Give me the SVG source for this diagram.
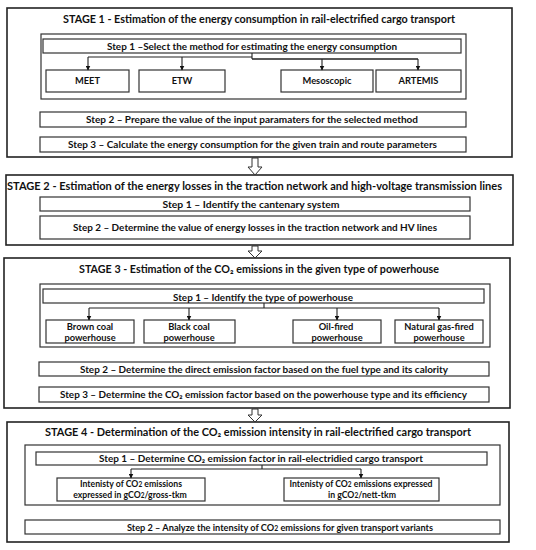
<svg xmlns="http://www.w3.org/2000/svg" width="536" height="550" viewBox="0 0 536 550">
<style>
.stage{fill:#fff;stroke:#222;stroke-width:1.6}
.grp{fill:none;stroke:#333;stroke-width:1.2}
.box{fill:#fff;stroke:#333;stroke-width:1.2}
.t{font-family:Lato,"Liberation Sans","DejaVu Sans",sans-serif;font-weight:700;fill:#111;text-anchor:middle}
.ttl{font-size:11.5px}
.st{font-size:10.3px}
.sm{font-size:9.3px}
.xs{font-size:8.7px}
.ln{fill:none;stroke:#222;stroke-width:1.1}
.blk{fill:#fff;stroke:#333;stroke-width:1}
.sub{font-size:75%}
</style>
<defs>
<marker id="ah" viewBox="0 0 10 10" refX="9" refY="5" markerWidth="5" markerHeight="5" orient="auto" markerUnits="userSpaceOnUse">
<path d="M0,0 L10,5 L0,10 z" fill="#111"/>
</marker>
</defs>
<rect width="536" height="550" fill="#fff"/>

<g id="stage1">
<rect class="stage" x="7" y="8" width="505" height="149"/>
<text class="t ttl" x="259" y="23" textLength="392" lengthAdjust="spacingAndGlyphs">STAGE 1 - Estimation of the energy consumption in rail-electrified cargo transport</text>
<rect class="grp" x="41" y="34" width="425" height="65"/>
<g id="s1-step1"><rect class="box" x="43" y="39" width="418" height="14"/>
<text class="t st" x="252" y="49.8" textLength="290" lengthAdjust="spacingAndGlyphs">Step 1 –Select the method for estimating the energy consumption</text></g>
<g id="s1-meet"><rect class="box" x="46" y="70" width="83" height="22"/><text class="t sm" x="87.5" y="84.3">MEET</text></g>
<g id="s1-etw"><rect class="box" x="139" y="70" width="86" height="22"/><text class="t sm" x="182" y="84.3">ETW</text></g>
<g id="s1-meso"><rect class="box" x="281" y="70" width="92" height="22"/><text class="t sm" x="327" y="84.3">Mesoscopic</text></g>
<g id="s1-artemis"><rect class="box" x="376" y="70" width="85" height="22"/><text class="t sm" x="418.5" y="84.3">ARTEMIS</text></g>
<g id="s1-step2"><rect class="box" x="40" y="112" width="426" height="15"/>
<text class="t st" x="252" y="123.1" textLength="332" lengthAdjust="spacingAndGlyphs">Step 2 – Prepare the value of the input paramaters for the selected method</text></g>
<g id="s1-step3"><rect class="box" x="40" y="137" width="426" height="15"/>
<text class="t st" x="252.5" y="148.1" textLength="369" lengthAdjust="spacingAndGlyphs">Step 3 – Calculate the energy consumption for the given train and route parameters</text></g>
</g>

<g id="stage2">
<rect class="stage" x="6" y="175" width="507" height="70"/>
<text class="t ttl" x="254.5" y="190" textLength="495" lengthAdjust="spacingAndGlyphs">STAGE 2 - Estimation of the energy losses in the traction network and high-voltage transmission lines</text>
<g id="s2-step1"><rect class="box" x="40" y="197" width="430" height="14"/>
<text class="t st" x="251" y="207.8" textLength="177" lengthAdjust="spacingAndGlyphs">Step 1 – Identify the cantenary system</text></g>
<g id="s2-step2"><rect class="box" x="40" y="216" width="430" height="23"/>
<text class="t st" x="255" y="231.1" textLength="364" lengthAdjust="spacingAndGlyphs">Step 2 – Determine the value of energy losses in the traction network and HV lines</text></g>
</g>

<g id="stage3">
<rect class="stage" x="4" y="258" width="506" height="150"/>
<text class="t ttl" x="259" y="273" textLength="360" lengthAdjust="spacingAndGlyphs">STAGE 3 - Estimation of the CO₂ emissions in the given type of powerhouse</text>
<rect class="grp" x="40" y="284" width="450" height="63"/>
<g id="s3-step1"><rect class="box" x="43" y="289" width="441" height="14"/>
<text class="t st" x="263" y="300.8" textLength="180" lengthAdjust="spacingAndGlyphs">Step 1 – Identify the type of powerhouse</text></g>
<g id="s3-brown"><rect class="box" x="46" y="320" width="88" height="23"/><text class="t sm" x="90" y="329.8">Brown coal</text><text class="t sm" x="90" y="340.8">powerhouse</text></g>
<g id="s3-black"><rect class="box" x="144" y="320" width="91" height="23"/><text class="t sm" x="189" y="329.8">Black coal</text><text class="t sm" x="189" y="340.8">powerhouse</text></g>
<g id="s3-oil"><rect class="box" x="293" y="320" width="88" height="23"/><text class="t sm" x="336" y="329.8">Oil-fired</text><text class="t sm" x="337" y="340.8">powerhouse</text></g>
<g id="s3-gas"><rect class="box" x="395" y="320" width="88" height="23"/><text class="t sm" x="439" y="329.8">Natural gas-fired</text><text class="t sm" x="439" y="340.8">powerhouse</text></g>
<g id="s3-step2"><rect class="box" x="39" y="362" width="450" height="14"/>
<text class="t st" x="264" y="372.8" textLength="368" lengthAdjust="spacingAndGlyphs">Step 2 – Determine the direct emission factor based on the fuel type and its calority</text></g>
<g id="s3-step3"><rect class="box" x="39" y="387" width="450" height="15"/>
<text class="t st" x="263.5" y="398.1" textLength="407" lengthAdjust="spacingAndGlyphs">Step 3 – Determine the CO₂ emission factor based on the powerhouse type and its efficiency</text></g>
</g>

<g id="stage4">
<rect class="stage" x="7" y="422" width="502" height="120"/>
<text class="t ttl" x="258" y="436" textLength="426" lengthAdjust="spacingAndGlyphs">STAGE 4 - Determination of the CO₂ emission intensity in rail-electrified cargo transport</text>
<rect class="grp" x="25" y="445" width="475" height="60"/>
<g id="s4-step1"><rect class="box" x="36" y="452" width="451" height="13"/>
<text class="t st" x="261" y="462.1" textLength="324" lengthAdjust="spacingAndGlyphs">Step 1 – Determine CO₂ emission factor in rail-electridied cargo transport</text></g>
<g id="s4-gross"><rect class="box" x="57" y="478" width="148" height="23"/>
<text class="t xs" x="131" y="487.3">Intenisty of CO<tspan class="sub">2</tspan> emissions</text>
<text class="t xs" x="130" y="498.3">expressed in gCO<tspan class="sub">2</tspan>/gross-tkm</text></g>
<g id="s4-nett"><rect class="box" x="284" y="478" width="155" height="23"/>
<text class="t xs" x="361" y="487.3">Intenisty of CO<tspan class="sub">2</tspan> emissions expressed</text>
<text class="t xs" x="362" y="498.3">in gCO<tspan class="sub">2</tspan>/nett-tkm</text></g>
<g id="s4-step2"><rect class="box" x="25" y="520" width="475" height="14"/>
<text class="t" style="font-size:9.2px" x="280" y="530.7">Step 2 – Analyze the intensity of CO<tspan class="sub">2</tspan> emissions for given transport variants</text></g>
</g>

<g id="connectors">
<path class="ln" d="M252,53 V59 M88,57 H252"/>
<path class="ln" d="M182,57 V70" marker-end="url(#ah)"/>
<path class="ln" d="M88,57 V70" marker-end="url(#ah)"/>
<path class="ln" style="stroke-width:1.6" d="M252,59 H418"/>
<path class="ln" d="M322,59 V70" marker-end="url(#ah)"/>
<path class="ln" d="M418,59 V70" marker-end="url(#ah)"/>

<path class="ln" d="M264,303 V308 M89,308 H439"/>
<path class="ln" d="M89,308 V320" marker-end="url(#ah)"/>
<path class="ln" d="M189,308 V320" marker-end="url(#ah)"/>
<path class="ln" d="M337,308 V320" marker-end="url(#ah)"/>
<path class="ln" d="M439,308 V320" marker-end="url(#ah)"/>

<path class="ln" d="M262,465 V469 M131,469 H361"/>
<path class="ln" d="M131,469 V478" marker-end="url(#ah)"/>
<path class="ln" d="M361,469 V478" marker-end="url(#ah)"/>

<path class="blk" d="M252,158 H258 V167 H262 L255,175 L248,167 H252 Z"/>
<path class="blk" d="M252,246 H258 V251 H262 L255,258 L248,251 H252 Z"/>
<path class="blk" d="M252,409 H258 V415 H262 L255,422 L248,415 H252 Z"/>
</g>
</svg>
